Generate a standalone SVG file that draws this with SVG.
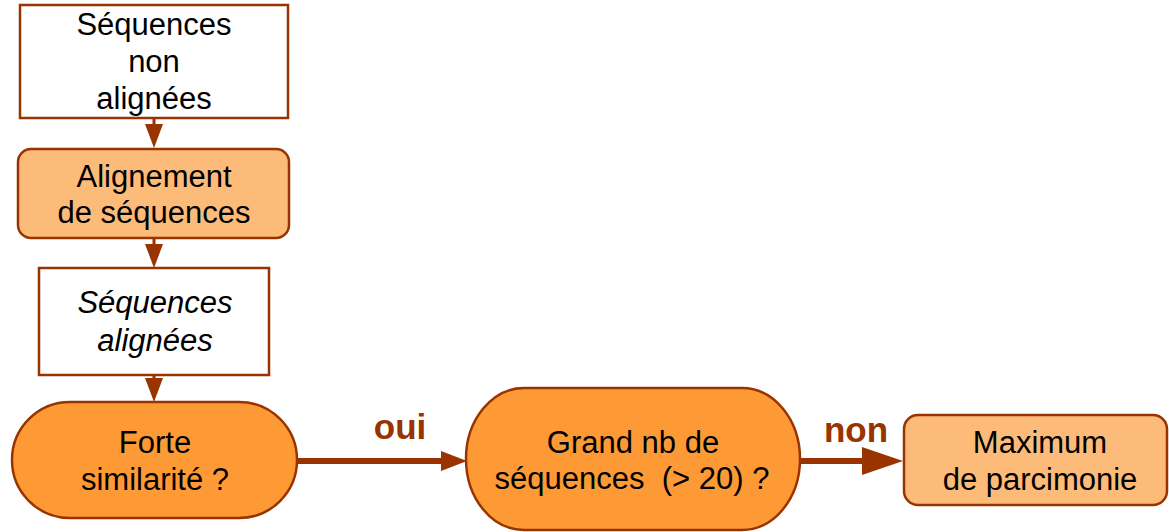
<svg xmlns="http://www.w3.org/2000/svg" width="1169" height="532" viewBox="0 0 1169 532">
<style>
.t{font-family:"Liberation Sans",Arial,sans-serif;font-size:31px;fill:#000;text-anchor:middle}
.i{font-style:italic}
.lbl{font-family:"Liberation Sans",Arial,sans-serif;font-size:35px;font-weight:bold;fill:#993300;text-anchor:middle}
.box{stroke:#993300;stroke-width:2.5}
.w{fill:#fff}
.lo{fill:#fdbb79}
.do{fill:#fe9a36}
.c{stroke:#993300;fill:none}
</style>
<defs>
<marker id="hv" markerUnits="userSpaceOnUse" markerWidth="24" markerHeight="18" refX="0" refY="9" orient="auto" overflow="visible"><path d="M0,0 L24,9 L0,18 z" fill="#993300"/></marker>
<marker id="ho" markerUnits="userSpaceOnUse" markerWidth="26" markerHeight="20" refX="0" refY="10" orient="auto" overflow="visible"><path d="M0,0 L26,10 L0,20 z" fill="#993300"/></marker>
<marker id="hn" markerUnits="userSpaceOnUse" markerWidth="41" markerHeight="28" refX="0" refY="14" orient="auto" overflow="visible"><path d="M0,0 L41,14 L0,28 z" fill="#993300"/></marker>
</defs>
<g id="connectors">
<line class="c" x1="154" y1="118" x2="154" y2="124" stroke-width="3" marker-end="url(#hv)"/>
<line class="c" x1="154" y1="238" x2="154" y2="244" stroke-width="3" marker-end="url(#hv)"/>
<line class="c" x1="154" y1="375" x2="154" y2="378" stroke-width="3" marker-end="url(#hv)"/>
<line class="c" x1="297" y1="461" x2="441" y2="461" stroke-width="6" marker-end="url(#ho)"/>
<line class="c" x1="800" y1="461" x2="862" y2="461" stroke-width="6" marker-end="url(#hn)"/>
<text class="lbl" x="400" y="439">oui</text>
<text class="lbl" x="856" y="442">non</text>
</g>
<g id="n1">
<rect class="box w" x="20" y="5" width="268" height="113"/>
<text class="t" x="154" y="35">Séquences</text>
<text class="t" x="154" y="72">non</text>
<text class="t" x="154" y="109">alignées</text>
</g>
<g id="n2">
<rect class="box lo" x="18" y="149" width="271" height="89" rx="13"/>
<text class="t" x="154" y="187">Alignement</text>
<text class="t" x="154" y="223">de séquences</text>
</g>
<g id="n3">
<rect class="box w" x="39" y="268" width="230" height="107"/>
<text class="t i" x="155" y="313">Séquences</text>
<text class="t i" x="155" y="351">alignées</text>
</g>
<g id="n4">
<rect class="box do" x="12" y="402" width="285" height="116" rx="58" ry="58"/>
<text class="t" x="155" y="453">Forte</text>
<text class="t" x="155" y="490">similarité ?</text>
</g>
<g id="n5">
<rect class="box do" x="466" y="388" width="334" height="142" rx="58" ry="71"/>
<text class="t" x="633" y="453">Grand nb de</text>
<text class="t" x="632" y="489" xml:space="preserve">séquences  (&gt; 20) ?</text>
</g>
<g id="n6">
<rect class="box lo" x="904" y="415" width="263" height="90" rx="14"/>
<text class="t" x="1040" y="453">Maximum</text>
<text class="t" x="1040" y="490">de parcimonie</text>
</g>
</svg>
